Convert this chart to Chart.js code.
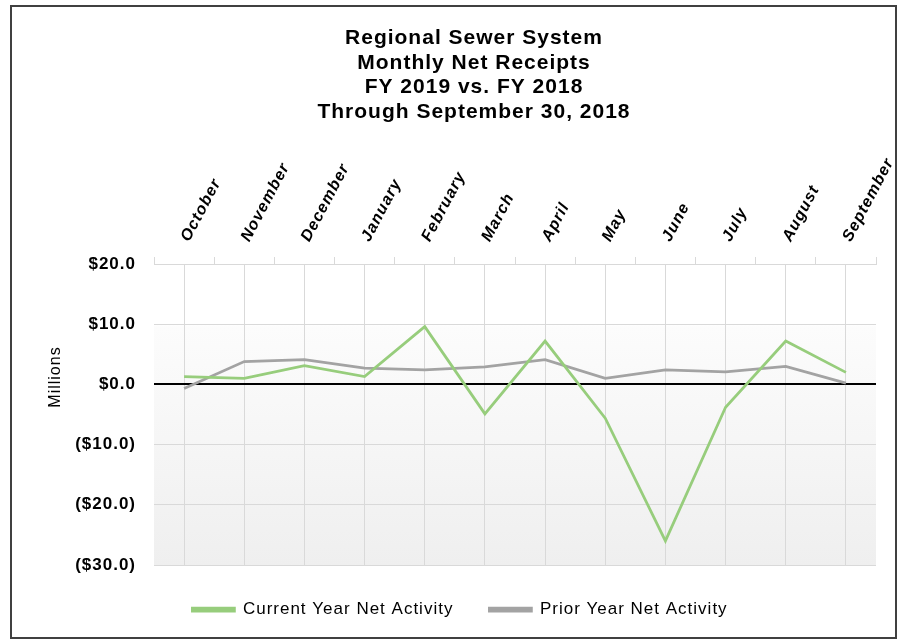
<!DOCTYPE html>
<html>
<head>
<meta charset="utf-8">
<script src="https://cdn.jsdelivr.net/npm/chart.js@4/dist/chart.umd.min.js"></script>
<style>
  body { margin: 0; background: #fff; }
  #wrap { position: relative; width: 904px; height: 639px; }
  #frame { position: absolute; left: 10px; top: 5px; width: 883px; height: 630px; border: 2px solid #404040; pointer-events: none; }
</style>
</head>
<body>
<div id="wrap">
  <canvas id="chart" width="904" height="639"></canvas>
  <div id="frame"></div>
</div>
<script>
const months = ["October", "November", "December", "January", "February", "March",
  "April", "May", "June", "July", "August", "September"];
const currentYear = [1.3, 1.0, 3.1, 1.3, 9.6, -4.9, 7.2, -5.6, -26.0, -3.8, 7.2, 2.0];
const priorYear = [-0.7, 3.8, 4.1, 2.7, 2.4, 2.9, 4.1, 1.0, 2.4, 2.1, 3.0, 0.2];
const yTicks = [20, 10, 0, -10, -20, -30];

const titleLines = ["Regional Sewer System", "Monthly Net Receipts", "FY 2019 vs. FY 2018", "Through September 30, 2018"];
const yTitle = "Millions";
const FONT = "Liberation Sans, Arial, sans-serif";

// the source uses slightly wide text spacing (set after the canvas is sized, which resets ctx state)
const spacing = {
  id: "spacing",
  afterInit(chart) { chart.ctx.letterSpacing = "1px"; },
  beforeUpdate(chart) { chart.ctx.letterSpacing = "1px"; }
};

// soft grey wash behind the plot
const plotBg = {
  id: "plotBg",
  beforeDraw(chart) {
    const { ctx, chartArea: a } = chart;
    const g = ctx.createLinearGradient(0, a.top, 0, a.bottom);
    g.addColorStop(0, "#ffffff");
    g.addColorStop(0.2, "#ffffff");
    g.addColorStop(0.21, "#fcfcfc");
    g.addColorStop(1, "#efefef");
    ctx.save();
    ctx.fillStyle = g;
    ctx.fillRect(a.left, a.top, a.right - a.left, a.bottom - a.top);
    ctx.restore();
  }
};

// title sits a bit right of the legend centre, "Millions" a bit above the plot middle
const extras = {
  id: "extras",
  afterLayout(chart) {
    chart.titleBlock.left += 14;
    chart.titleBlock.right += 14;
  },
  afterDraw(chart) {
    const ctx = chart.ctx;
    ctx.save();
    ctx.translate(56, 377);
    ctx.rotate(-Math.PI / 2);
    ctx.font = `16px ${FONT}`;
    ctx.fillStyle = "#000";
    ctx.textAlign = "center";
    ctx.textBaseline = "middle";
    ctx.fillText(yTitle, 0, 0);
    ctx.restore();
  }
};

const fmtMoney = v => v < 0 ? `($${Math.abs(v).toFixed(1)})` : `$${v.toFixed(1)}`;

new Chart(document.getElementById("chart"), {
  type: "line",
  data: {
    labels: months,
    datasets: [
      {
        label: "Current Year Net Activity",
        data: currentYear,
        borderColor: "#97cd7c",
        backgroundColor: "#97cd7c",
        borderWidth: 2.75,
        pointRadius: 0,
        tension: 0
      },
      {
        label: "Prior Year Net Activity",
        data: priorYear,
        borderColor: "#a3a3a3",
        backgroundColor: "#a3a3a3",
        borderWidth: 2.75,
        pointRadius: 0,
        tension: 0
      }
    ]
  },
  options: {
    responsive: false,
    animation: false,
    layout: { padding: { top: 26, left: 44, right: 28, bottom: 11 } },
    plugins: {
      title: {
        display: true,
        text: titleLines,
        color: "#000",
        font: { family: FONT, size: 21, weight: "bold", lineHeight: 1.167 },
        padding: { top: 0, bottom: 19 }
      },
      legend: {
        position: "bottom",
        labels: {
          color: "#000",
          boxWidth: 42,
          boxHeight: 3,
          padding: 36,
          font: { family: FONT, size: 17 }
        }
      },
      tooltip: { enabled: false }
    },
    scales: {
      x: {
        position: "top",
        offset: true,
        weight: 1,
        grid: { offset: false, color: "#d9d9d9", drawTicks: false },
        border: { display: false },
        ticks: {
          color: "#000",
          minRotation: 62,
          maxRotation: 62,
          padding: 12,
          labelOffset: 18,
          font: { family: FONT, size: 16, weight: "bold", style: "italic" }
        }
      },
      x2: {
        type: "category",
        position: "top",
        offset: true,
        weight: 0,
        grid: { offset: true, drawOnChartArea: false, color: "#d9d9d9", tickLength: 7 },
        border: { color: "#d9d9d9" },
        ticks: { display: false }
      },
      y: {
        min: -30,
        max: 20,
        afterBuildTicks: axis => { axis.ticks = yTicks.map(v => ({ value: v })); },
        afterFit: axis => { axis.width = 110; },
        grid: {
          drawTicks: false,
          color: ctx => ctx.tick && ctx.tick.value === 0 ? "#000" : "#d9d9d9",
          lineWidth: ctx => ctx.tick && ctx.tick.value === 0 ? 2 : 1
        },
        border: { display: false },
        ticks: {
          color: "#000",
          padding: 18,
          callback: v => fmtMoney(v),
          font: { family: FONT, size: 17, weight: "bold" }
        }
      }
    }
  },
  plugins: [spacing, plotBg, extras]
});
</script>
</body>
</html>
